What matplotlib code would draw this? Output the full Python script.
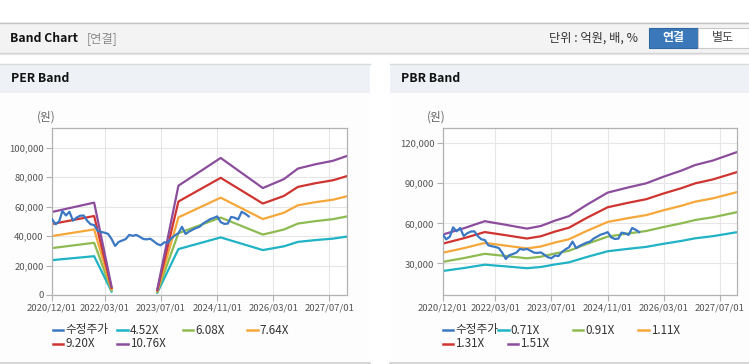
import matplotlib
matplotlib.use("Agg")
import matplotlib.pyplot as plt
from matplotlib.patches import Rectangle
from matplotlib.lines import Line2D
import numpy as np
import pandas as pd

plt.rcParams['font.family'] = ['Noto Sans CJK KR', 'DejaVu Sans']

W, H = 749, 364

# ---- data -------------------------------------------------------------
price_start = "2020-12-01"
price = [51500, 48000, 50000, 57000, 54000, 56500, 50500, 52500, 53800, 54000,
         50500, 48000, 47500, 43500, 42800, 42300, 41500, 38000, 33300, 36000,
         37000, 38000, 40800, 40200, 40800, 39500, 38000, 37800, 38200, 36500,
         34600, 33800, 35800, 35500, 38500, 40500, 42000, 46300, 41400, 43000,
         44300, 45500, 46300, 48500, 50000, 51500, 52300, 53400, 49500, 48300,
         48500, 53000, 52500, 51300, 56500, 55200, 53400]

per_dates = ["2020-12", "2021-12", "2022-05", "2022-12", "2023-06", "2023-12",
             "2024-12", "2025-12", "2026-06", "2026-10", "2027-03", "2027-08", "2027-12"]
per_labels = ["4.52X", "6.08X", "7.64X", "9.20X", "10.76X"]
per_452 = [23680, 26350, 2350, np.nan, 1580, 31190, 39100, 30510, 33040, 36070, 37290, 38280, 39690]
per_608 = [31860, 35450, 3160, np.nan, 2130, 41950, 52590, 41040, 44440, 48520, 50160, 51500, 53380]
per_764 = [40030, 44540, 3970, np.nan, 2670, 52720, 66090, 51570, 55850, 60970, 63030, 64710, 67080]
per_920 = [48210, 53640, 4780, np.nan, 3220, 63480, 79580, 62100, 67250, 73420, 75900, 77920, 80780]
per_1076 = [56380, 62730, 5600, np.nan, 3770, 74240, 93070, 72630, 78660, 85860, 88770, 91140, 94470]

pbr_dates = ["2020-12", "2021-06", "2021-12", "2022-06", "2022-12", "2023-04", "2023-08",
             "2023-12", "2024-05", "2024-11", "2025-05", "2025-10", "2026-03", "2026-08",
             "2026-12", "2027-05", "2027-12"]
pbr_labels = ["0.71X", "0.91X", "1.11X", "1.31X", "1.51X"]
pbr_071 = [24250, 26450, 28970, 27690, 26340, 27260, 29150, 30740, 34680, 39050,
           40900, 42320, 44660, 46790, 48780, 50340, 53390]
pbr_091 = [31080, 33900, 37130, 35490, 33760, 34940, 37360, 39400, 44440, 50050,
           52420, 54240, 57240, 59970, 62520, 64520, 68430]
pbr_111 = [37910, 41350, 45290, 43290, 41180, 42620, 45580, 48060, 54210, 61050,
           63940, 66160, 69820, 73150, 76260, 78700, 83470]
pbr_131 = [44740, 48800, 53450, 51090, 48600, 50300, 53790, 56720, 63980, 72050,
           75460, 78080, 82400, 86330, 90000, 92880, 98510]
pbr_151 = [51570, 56250, 61610, 58890, 56020, 57980, 62000, 65380, 73750, 83050,
           86980, 90000, 94980, 99510, 103740, 107060, 113550]

tick_dates = ["2020-12-01", "2022-03-01", "2023-07-01", "2024-11-01", "2026-03-01", "2027-07-01"]
tick_labels = ["2020/12/01", "2022/03/01", "2023/07/01", "2024/11/01", "2026/03/01", "2027/07/01"]

price_label = "수정주가"
colors = ["#3b78c4", "#1fb3c5", "#8dbb52", "#f5a73a", "#d03430", "#8c4d9d"]

# ---- figure & page decoration ----------------------------------------
fig = plt.figure(figsize=(W / 100, H / 100), dpi=100)
fig.patch.set_facecolor("white")


def rect(x0, y0, x1, y1, fc, ec="none", lw=0, z=-5):
    fig.patches.append(Rectangle((x0 / W, 1 - y1 / H), (x1 - x0) / W, (y1 - y0) / H,
                                 transform=fig.transFigure, facecolor=fc,
                                 edgecolor=ec, linewidth=lw, zorder=z))


def hline(x0, x1, y, color, lw=1):
    fig.add_artist(Line2D([x0 / W, x1 / W], [1 - y / H, 1 - y / H],
                          transform=fig.transFigure, color=color, linewidth=lw, zorder=-4))


def text(x, y, s, **kw):
    fig.text(x / W, 1 - y / H, s, va="center", **kw)


# top bar
rect(0, 22, W, 53, "#f3f3f3")
hline(0, W, 22.5, "#c4c4c4", 1)
hline(0, W, 53, "#d0d0d0", 1)
hline(0, W, 54, "#e6e6e6", 1)
text(10.5, 38.5, "Band Chart", fontsize=8.8, fontweight="bold", color="#111111")
text(87, 38.5, "[연결]", fontsize=8.8, color="#8a8a8a")
text(549, 38.5, "단위 : 억원, 배, %", fontsize=8.8, color="#333333")
rect(648.5, 28, 697.5, 48, "#3a78b9", ec="#2e67a3", lw=0.8, z=1)
text(673, 38, "연결", fontsize=8.6, fontweight="bold", color="white", ha="center")
rect(697.5, 28, 749, 48, "white", ec="#c8c8c8", lw=0.8, z=1)
text(723, 38, "별도", fontsize=8.6, color="#444444", ha="center")

# panels
for x0, x1, title in [(0, 370, "PER Band"), (390, W, "PBR Band")]:
    rect(x0, 64, x1, 362, "#fdfdfd")
    rect(x0, 64, x1, 92.7, "#eef2f7")
    hline(x0, x1, 64.3, "#dadada", 1)
    hline(x0, x1, 362.5, "#cfcfcf", 1.2)
    text(x0 + 11, 79, title, fontsize=8.8, fontweight="bold", color="#111111")


# ---- charts -------------------------------------------------------------
def setup_axes(left, right, ylim, yticks):
    ax = fig.add_axes([left / W, 1 - 295 / H, (right - left) / W, (295 - 128.3) / H])
    ax.set_facecolor("white")
    ax.set_xlim(pd.Timestamp("2020-12-01"), pd.Timestamp("2027-11-30"))
    ax.set_ylim(*ylim)
    ax.set_yticks(yticks)
    ax.set_yticklabels([f"{v:,}" for v in yticks])
    ax.set_xticks(pd.to_datetime(tick_dates))
    ax.set_xticklabels(tick_labels)
    ax.grid(color="#e6e6e6", linewidth=0.8)
    ax.set_axisbelow(True)
    for s in ax.spines.values():
        s.set_color("#b2b2b2")
        s.set_linewidth(0.9)
    ax.tick_params(axis="both", length=4, width=0.8, color="#b2b2b2",
                   labelsize=6.8, labelcolor="#555555", pad=2)
    return ax


def draw(ax, band_dates, bands):
    x_price = pd.date_range(price_start, periods=len(price), freq="MS")
    x_band = pd.to_datetime(band_dates)
    for i, b in enumerate(bands):
        ax.plot(x_band, b, color=colors[i + 1], linewidth=1.6, solid_joinstyle="round")
    ax.plot(x_price, price, color=colors[0], linewidth=1.6, zorder=5)


def legend(items, positions):
    for (label, color), (x, y) in zip(items, positions):
        fig.add_artist(Line2D([x / W, (x + 10.6) / W], [1 - y / H, 1 - y / H],
                              transform=fig.transFigure, color=color, linewidth=1.8))
        text(x + 12.5, y, label, fontsize=8.4, color="#333333")


ax1 = setup_axes(52, 347, (0, 113200), [0, 20000, 40000, 60000, 80000, 100000])
draw(ax1, per_dates, [per_452, per_608, per_764, per_920, per_1076])
text(37, 117.5, "(원)", fontsize=8.4, color="#666666")
legend(zip([price_label] + per_labels, colors),
       [(52.7, 330), (117.3, 330), (182.7, 330), (247.3, 330), (52.7, 343.5), (117.3, 343.5)])

ax2 = setup_axes(442.7, 737.3, (6250, 131250), [30000, 60000, 90000, 120000])
draw(ax2, pbr_dates, [pbr_071, pbr_091, pbr_111, pbr_131, pbr_151])
text(427, 117.5, "(원)", fontsize=8.4, color="#666666")
legend(zip([price_label] + pbr_labels, colors),
       [(442.7, 330), (498.3, 330), (572.7, 330), (638.3, 330), (442.7, 343.5), (507.7, 343.5)])

fig.savefig("out.png", dpi=100)
